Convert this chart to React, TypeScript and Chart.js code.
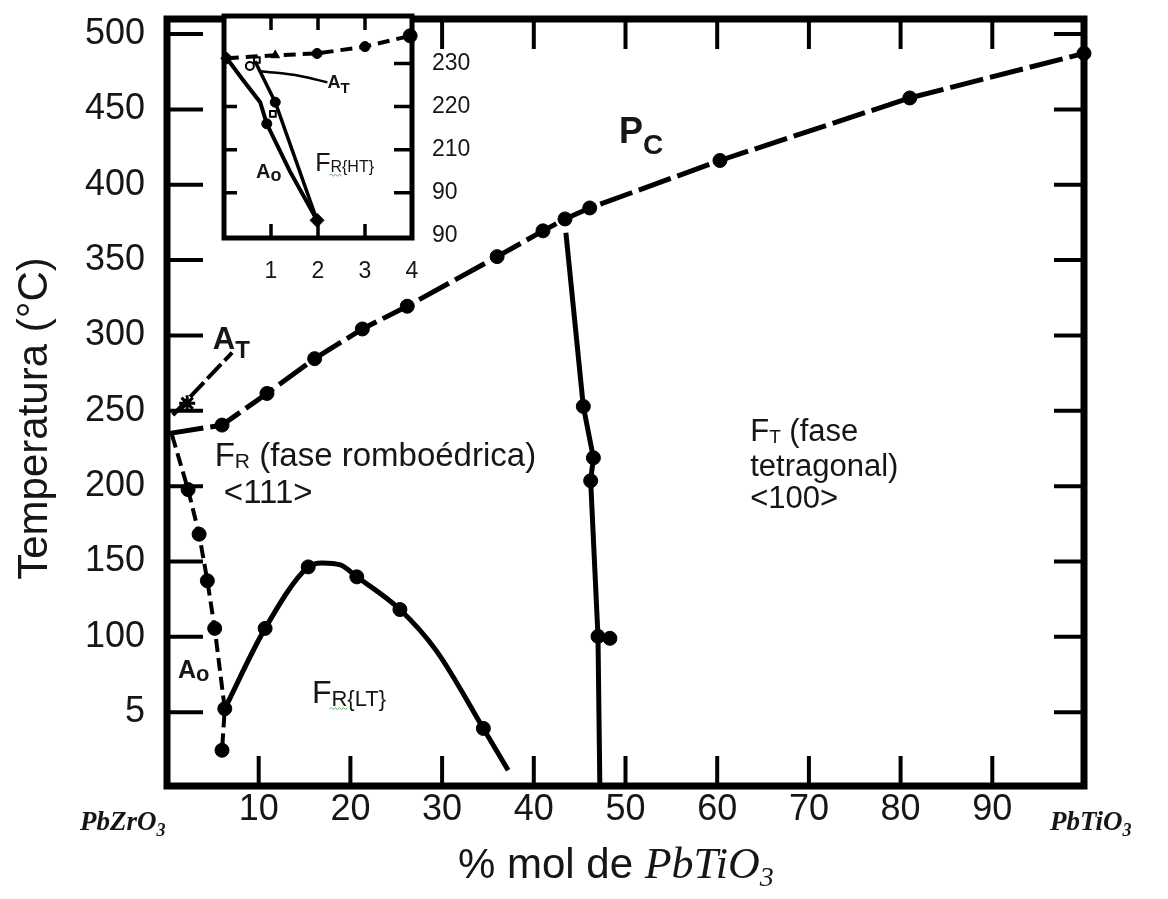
import React, { useEffect, useRef } from 'react';
import { Chart, registerables } from 'chart.js';

Chart.register(...registerables);

const INK = '#161616';
const SANS = '"Liberation Sans", Arial, sans-serif';
const NARROW = '"Liberation Sans Narrow", "Liberation Sans", Arial, sans-serif';
const SERIF = '"Liberation Serif", "Times New Roman", serif';

// ---- Main diagram: composition (% mol PbTiO3) vs temperature (°C)
const xTickValues = [10, 20, 30, 40, 50, 60, 70, 80, 90];
const xTickLabels = ['10', '20', '30', '40', '50', '60', '70', '80', '90'];
const yTickValues = [50, 100, 150, 200, 250, 300, 350, 400, 450, 500];
const yTickLabels = ['5', '100', '150', '200', '250', '300', '350', '400', '450', '500'];

// Curie line: cubic paraelectric (Pc) above, ferroelectric below
const curieX = [0.3, 6.0, 10.9, 16.1, 21.3, 26.2, 36.0, 41.0, 43.4, 46.1, 60.3, 81.0, 100];
const curieT = [235.0, 240.5, 261.5, 284.6, 304.3, 319.4, 352.3, 369.4, 377.3, 384.6, 416.1, 457.6, 487.2];

// Antiferroelectric orthorhombic (AO) boundary near PbZrO3
const aoX = [0.55, 2.3, 3.5, 4.4, 5.2, 6.3, 6.0];
const aoT = [233.9, 197.7, 168.1, 137.2, 105.6, 52.3, 24.7];

// Pointer to the narrow AT field
const atX = [0.65, 7.1];
const atT = [247.2, 288.6];
const atMarkX = [2.2];
const atMarkT = [255.0];

// FR(HT) / FR(LT) boundary
const ltX = [6.3, 10.7, 15.4, 16.9, 18.9, 20.7, 25.4, 29.4, 34.5, 37.2];
const ltT = [52.3, 105.6, 146.4, 149.0, 147.7, 139.8, 118.1, 90.5, 39.2, 11.5];
const ltMeasured = [1, 2, 5, 6, 8];

// Morphotropic boundary FR / FT
const mpbX = [43.5, 45.4, 46.5, 46.2, 47.0, 47.2];
const mpbT = [368.1, 252.9, 218.8, 203.6, 100.3, 2.3];
const mpbMeasured = [1, 2, 3, 4];
const mpbExtraX = [48.3];
const mpbExtraT = [99.0];

// ---- Inset: PbZrO3 corner enlarged
const insetXTicks = [1, 2, 3, 4];
const insetXLabels = ['1', '2', '3', '4'];
const insetYTicks = [190, 200, 210, 220, 230];
const insetYLabels = ['90', '90', '210', '220', '230'];

const insCubicX = [0.06, 1.09, 1.98, 3.0, 3.96];
const insCubicT = [231.2, 231.9, 232.3, 233.9, 236.4];
const insAtX = [0.77, 1.62, 2.2];
const insAtT = [228.2, 227.1, 225.6];
const insLeftX = [0.06, 0.4, 0.77, 0.91, 1.4, 1.98];
const insLeftT = [231.2, 226.2, 221.0, 216.0, 205.0, 193.6];
const insRightX = [0.66, 1.09, 1.98];
const insRightT = [230.5, 221.0, 193.6];
const insSolidX = [1.09, 0.91];
const insSolidT = [221.0, 216.0];
const insOpenX = [0.55, 0.7, 1.04];
const insOpenT = [229.4, 230.8, 218.3];
const insEndX = [1.98];
const insEndT = [193.6];

const pts = (xs: number[], ys: number[]) => xs.map((x, i) => ({ x, y: ys[i] }));
const radii = (n: number, idx: number[], r: number) =>
  Array.from({ length: n }, (_, i) => (idx.includes(i) ? r : 0));

type Part = [string, string, number?];
function drawParts(ctx: CanvasRenderingContext2D, x: number, y: number, parts: Part[]) {
  let cx = x;
  const starts: number[] = [];
  for (const [text, font, dy = 0] of parts) {
    ctx.font = font;
    starts.push(cx);
    ctx.fillText(text, cx, y + dy);
    cx += ctx.measureText(text).width;
  }
  return starts;
}

function squiggle(ctx: CanvasRenderingContext2D, x0: number, x1: number, y: number) {
  ctx.save();
  ctx.strokeStyle = '#6bb56b';
  ctx.lineWidth = 1;
  ctx.setLineDash([]);
  ctx.beginPath();
  ctx.moveTo(x0, y);
  let up = true;
  for (let x = x0 + 2; x <= x1; x += 2) {
    ctx.lineTo(x, y + (up ? -1.2 : 1.2));
    up = !up;
  }
  ctx.stroke();
  ctx.restore();
}

// keep the plot box exactly where the scales are fitted
const noScalePadding = (s: any) => {
  s.paddingTop = 0;
  s.paddingBottom = 0;
  s.paddingLeft = 0;
  s.paddingRight = 0;
};

const mainDecor = {
  id: 'mainDecor',
  afterDraw(chart: any) {
    const { ctx, chartArea: a } = chart;
    const sx = chart.scales.x;
    const sy = chart.scales.y;
    const X = (v: number) => sx.getPixelForValue(v);
    const Y = (v: number) => sy.getPixelForValue(v);
    ctx.save();
    ctx.strokeStyle = '#000';
    ctx.setLineDash([]);
    ctx.lineWidth = 4;
    ctx.beginPath();
    for (const v of xTickValues) {
      const p = X(v);
      ctx.moveTo(p, a.bottom);
      ctx.lineTo(p, a.bottom - 30);
      ctx.moveTo(p, a.top);
      ctx.lineTo(p, a.top + 30);
    }
    for (const v of yTickValues) {
      const p = Y(v);
      ctx.moveTo(a.left, p);
      ctx.lineTo(a.left + 36, p);
      ctx.moveTo(a.right, p);
      ctx.lineTo(a.right - 30, p);
    }
    ctx.stroke();
    ctx.lineWidth = 7;
    ctx.strokeRect(a.left, a.top, a.right - a.left, a.bottom - a.top);

    ctx.fillStyle = INK;
    ctx.textAlign = 'left';
    ctx.textBaseline = 'alphabetic';

    // phase field labels
    drawParts(ctx, X(49.3), Y(428), [
      ['P', `bold 36px ${NARROW}`],
      ['C', `bold 28px ${NARROW}`, 11],
    ]);
    drawParts(ctx, X(5.0), Y(291), [
      ['A', `bold 31px ${NARROW}`],
      ['T', `bold 24px ${NARROW}`, 9],
    ]);
    drawParts(ctx, X(1.2), Y(73), [
      ['A', `bold 25px ${NARROW}`],
      ['o', `bold 22px ${NARROW}`, 3],
    ]);
    drawParts(ctx, X(5.2), Y(213.5), [
      ['F', `33px ${SANS}`],
      ['R', `21px ${SANS}`, 2],
      [' (fase romboédrica)', `33px ${SANS}`],
    ]);
    drawParts(ctx, X(6.2), Y(188.5), [['<111>', `33px ${SANS}`]]);
    drawParts(ctx, X(63.6), Y(230), [
      ['F', `31px ${SANS}`],
      ['T', `19px ${SANS}`, 2],
      [' (fase', `31px ${SANS}`],
    ]);
    drawParts(ctx, X(63.6), Y(207), [['tetragonal)', `31px ${SANS}`]]);
    drawParts(ctx, X(63.6), Y(185.5), [['<100>', `31px ${SANS}`]]);
    const lt = drawParts(ctx, X(15.8), Y(56.3), [
      ['F', `32px ${SANS}`],
      ['R{LT}', `22px ${SANS}`, 3],
    ]);
    ctx.font = `22px ${SANS}`;
    squiggle(ctx, lt[1] - 2, lt[1] + ctx.measureText('R').width + 2, Y(56.3) + 6);

    // axis titles and end members
    ctx.save();
    ctx.translate(a.left - 120, (a.top + a.bottom) / 2 + 16);
    ctx.rotate(-Math.PI / 2);
    ctx.textAlign = 'center';
    ctx.font = `42px ${SANS}`;
    ctx.fillText('Temperatura (°C)', 0, 0);
    ctx.restore();

    drawParts(ctx, a.left + 291, a.bottom + 92, [
      ['% mol de ', `42px ${SANS}`],
      ['PbTiO', `italic 44px ${SERIF}`],
      ['3', `italic 28px ${SERIF}`, 8],
    ]);
    drawParts(ctx, a.left - 87, a.bottom + 44, [
      ['PbZrO', `italic bold 27px ${SERIF}`],
      ['3', `italic bold 18px ${SERIF}`, 6],
    ]);
    drawParts(ctx, a.right - 34, a.bottom + 44, [
      ['PbTiO', `italic bold 27px ${SERIF}`],
      ['3', `italic bold 18px ${SERIF}`, 6],
    ]);
    ctx.restore();
  },
};

const insetDecor = {
  id: 'insetDecor',
  beforeDraw(chart: any) {
    const { ctx, chartArea: a } = chart;
    ctx.save();
    ctx.fillStyle = '#fff';
    ctx.fillRect(a.left - 2, a.top - 2, a.right - a.left + 4, a.bottom - a.top + 4);
    ctx.restore();
  },
  afterDraw(chart: any) {
    const { ctx, chartArea: a } = chart;
    const sx = chart.scales.x;
    const sy = chart.scales.y;
    const X = (v: number) => sx.getPixelForValue(v);
    const Y = (v: number) => sy.getPixelForValue(v);
    ctx.save();
    ctx.strokeStyle = '#000';
    ctx.setLineDash([]);
    ctx.lineWidth = 3.5;
    ctx.beginPath();
    for (const v of insetXTicks.slice(0, 3)) {
      const p = X(v);
      ctx.moveTo(p, a.bottom);
      ctx.lineTo(p, a.bottom - 14);
      ctx.moveTo(p, a.top);
      ctx.lineTo(p, a.top + 14);
    }
    for (const v of insetYTicks.slice(1)) {
      const p = Y(v);
      ctx.moveTo(a.right, p);
      ctx.lineTo(a.right - 18, p);
      if (v < 230) {
        ctx.moveTo(a.left, p);
        ctx.lineTo(a.left + 13, p);
      }
    }
    ctx.stroke();
    ctx.lineWidth = 5;
    ctx.strokeRect(a.left, a.top, a.right - a.left, a.bottom - a.top);

    ctx.fillStyle = INK;
    ctx.textAlign = 'left';
    ctx.textBaseline = 'alphabetic';
    const ht = drawParts(ctx, X(1.94), Y(205), [
      ['F', `25px ${SANS}`],
      ['R{HT}', `16px ${SANS}`, 1],
    ]);
    ctx.font = `16px ${SANS}`;
    squiggle(ctx, ht[1] - 1, ht[1] + ctx.measureText('R').width + 1, Y(205) + 4);
    drawParts(ctx, X(0.68), Y(203.5), [
      ['A', `bold 20px ${NARROW}`],
      ['o', `bold 18px ${NARROW}`, 3],
    ]);
    drawParts(ctx, X(2.2), Y(224.3), [
      ['A', `bold 18px ${NARROW}`],
      ['T', `bold 15px ${NARROW}`, 5],
    ]);
    ctx.restore();
  },
};

const black = '#000';
const line = (data: any[], width: number, dash: number[], extra: any = {}) => ({
  data,
  borderColor: black,
  borderWidth: width,
  borderDash: dash,
  pointBackgroundColor: black,
  pointBorderColor: black,
  pointBorderWidth: 1,
  tension: 0,
  clip: false,
  ...extra,
});

export default function App() {
  const mainRef = useRef<HTMLCanvasElement>(null);
  const insetRef = useRef<HTMLCanvasElement>(null);

  useEffect(() => {
    const tickFont = { family: SANS, size: 36 };
    const main = new Chart(mainRef.current!, {
      type: 'line',
      data: {
        datasets: [
          line(pts(curieX, curieT), 5, [34, 7], {
            pointRadius: curieX.map((_, i) => (i === 0 ? 0 : 7)),
          }),
          line(pts(aoX, aoT), 4, [13, 6], {
            pointRadius: aoX.map((_, i) => (i === 0 ? 0 : 7)),
          }),
          line(pts(atX, atT), 4, [20, 5], { pointRadius: 0 }),
          line(pts(atMarkX, atMarkT), 3, [], {
            showLine: false,
            pointStyle: 'star',
            pointRadius: 8,
            pointBorderWidth: 3,
          }),
          line(pts(ltX, ltT), 5, [], {
            cubicInterpolationMode: 'monotone',
            pointRadius: radii(ltX.length, ltMeasured, 7),
          }),
          line(pts(mpbX, mpbT), 5, [], {
            pointRadius: radii(mpbX.length, mpbMeasured, 7),
          }),
          line(pts(mpbExtraX, mpbExtraT), 5, [], { showLine: false, pointRadius: 7 }),
        ],
      },
      options: {
        responsive: false,
        animation: false,
        devicePixelRatio: 1,
        events: [],
        layout: { padding: { left: 0, top: 4, right: 76, bottom: 0 } },
        plugins: { legend: { display: false }, tooltip: { enabled: false } },
        scales: {
          x: {
            type: 'linear',
            min: 0,
            max: 100,
            afterFit: (s: any) => {
              s.height = 105;
              noScalePadding(s);
            },
            afterBuildTicks: (s: any) => {
              s.ticks = xTickValues.map((v) => ({ value: v }));
            },
            grid: { display: false, drawTicks: false },
            border: { display: false },
            ticks: {
              autoSkip: false,
              maxRotation: 0,
              padding: 2,
              color: INK,
              font: tickFont,
              callback: (_v: any, i: number) => xTickLabels[i],
            },
          },
          y: {
            type: 'linear',
            min: 1,
            max: 510,
            afterFit: (s: any) => {
              s.width = 159;
              noScalePadding(s);
            },
            afterBuildTicks: (s: any) => {
              s.ticks = yTickValues.map((v) => ({ value: v }));
            },
            grid: { display: false, drawTicks: false },
            border: { display: false },
            ticks: {
              autoSkip: false,
              padding: 22,
              color: INK,
              font: tickFont,
              callback: (_v: any, i: number) => yTickLabels[i],
            },
          },
        },
      },
      plugins: [mainDecor],
    } as any);

    const insetFont = { family: SANS, size: 23 };
    const inset = new Chart(insetRef.current!, {
      type: 'line',
      data: {
        datasets: [
          line(pts(insCubicX, insCubicT), 4, [12, 7], {
            pointStyle: ['rectRot', 'triangle', 'circle', 'circle', 'circle'],
            pointRadius: [6, 5, 5, 5, 7],
          }),
          line(pts(insAtX, insAtT), 2.5, [], { pointRadius: 0, cubicInterpolationMode: 'monotone' }),
          line(pts(insLeftX, insLeftT), 4, [], { pointRadius: 0 }),
          line(pts(insRightX, insRightT), 3.5, [], { pointRadius: 0 }),
          line(pts(insSolidX, insSolidT), 3, [], { showLine: false, pointRadius: 5 }),
          line(pts(insOpenX, insOpenT), 2, [], {
            showLine: false,
            pointStyle: ['circle', 'rect', 'rect'],
            pointRadius: 4,
            pointBackgroundColor: '#fff',
            pointBorderWidth: 2,
          }),
          line(pts(insEndX, insEndT), 3, [], {
            showLine: false,
            pointStyle: 'rectRot',
            pointRadius: 7,
          }),
        ],
      },
      options: {
        responsive: false,
        animation: false,
        devicePixelRatio: 1,
        events: [],
        layout: { padding: { left: 16, top: 4, right: 0, bottom: 0 } },
        plugins: { legend: { display: false }, tooltip: { enabled: false } },
        scales: {
          x: {
            type: 'linear',
            min: 0,
            max: 4,
            afterFit: (s: any) => {
              s.height = 60;
              noScalePadding(s);
            },
            afterBuildTicks: (s: any) => {
              s.ticks = insetXTicks.map((v) => ({ value: v }));
            },
            grid: { display: false, drawTicks: false },
            border: { display: false },
            ticks: {
              autoSkip: false,
              maxRotation: 0,
              padding: 20,
              color: INK,
              font: insetFont,
              callback: (_v: any, i: number) => insetXLabels[i],
            },
          },
          y: {
            type: 'linear',
            position: 'right',
            min: 189.5,
            max: 241,
            afterFit: (s: any) => {
              s.width = 126;
              noScalePadding(s);
            },
            afterBuildTicks: (s: any) => {
              s.ticks = insetYTicks.map((v) => ({ value: v }));
            },
            grid: { display: false, drawTicks: false },
            border: { display: false },
            ticks: {
              autoSkip: false,
              padding: 20,
              color: INK,
              font: insetFont,
              callback: (_v: any, i: number) => insetYLabels[i],
            },
          },
        },
      },
      plugins: [insetDecor],
    } as any);

    return () => {
      main.destroy();
      inset.destroy();
    };
  }, []);

  return (
    <div style={{ position: 'relative', width: 1152, height: 883 }}>
      <canvas
        ref={mainRef}
        width={1152}
        height={883}
        style={{ position: 'absolute', left: 0, top: 0, display: 'block' }}
      />
      <canvas
        ref={insetRef}
        width={330}
        height={290}
        style={{ position: 'absolute', left: 200, top: 0, display: 'block' }}
      />
    </div>
  );
}
